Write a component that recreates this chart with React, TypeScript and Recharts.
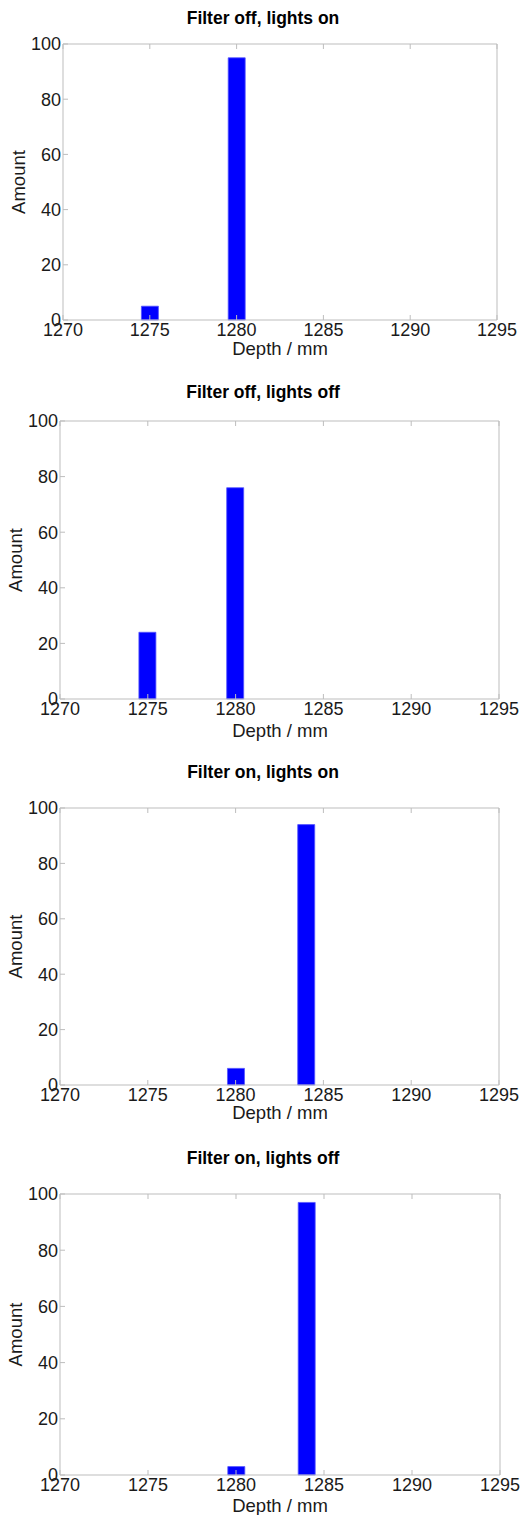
import React from 'react';
import { BarChart, Bar, XAxis, YAxis } from 'recharts';

// ---- data ----
const titles = [
  'Filter off, lights on',
  'Filter off, lights off',
  'Filter on, lights on',
  'Filter on, lights off',
];
const depthsFilterOffLightsOn = [1275, 1280];
const amountsFilterOffLightsOn = [5, 95];
const depthsFilterOffLightsOff = [1275, 1280];
const amountsFilterOffLightsOff = [24, 76];
const depthsFilterOnLightsOn = [1280, 1284];
const amountsFilterOnLightsOn = [6, 94];
const depthsFilterOnLightsOff = [1280, 1284];
const amountsFilterOnLightsOff = [3, 97];
const xTicks = [1270, 1275, 1280, 1285, 1290, 1295];
const yTicks = [0, 20, 40, 60, 80, 100];
const xLabel = 'Depth / mm';
const yLabel = 'Amount';

const series = [
  { depths: depthsFilterOffLightsOn, amounts: amountsFilterOffLightsOn },
  { depths: depthsFilterOffLightsOff, amounts: amountsFilterOffLightsOff },
  { depths: depthsFilterOnLightsOn, amounts: amountsFilterOnLightsOn },
  { depths: depthsFilterOnLightsOff, amounts: amountsFilterOnLightsOff },
];

// ---- layout (plot boxes in page pixels) ----
const boxes = [
  { L: 63, T: 44, R: 497, B: 320, titleY: 18, ylabX: 18, xlabY: 348 },
  { L: 60, T: 421, R: 499, B: 699, titleY: 392, ylabX: 15, xlabY: 730 },
  { L: 60, T: 808, R: 499, B: 1085, titleY: 772, ylabX: 15, xlabY: 1112 },
  { L: 60, T: 1194, R: 500, B: 1475, titleY: 1158, ylabX: 15, xlabY: 1505 },
];

const W = 531;
const FONT = '"Liberation Sans", Arial, sans-serif';
const AXIS_COLOR = '#bdbdbd';
const TEXT_COLOR = '#1a1a1a';
const Y_AXIS_W = 40;
const X_AXIS_H = 30;
const PAD_TOP = 50;
const PAD_BOTTOM = 60;

function Panel({ idx }: { idx: number }) {
  const b = boxes[idx];
  const s = series[idx];
  const data = s.depths.map((d, i) => ({ depth: d, amount: s.amounts[i] }));
  const h = b.B - b.T + PAD_TOP + PAD_BOTTOM;
  const tickStyle = { fill: TEXT_COLOR, fontSize: 18, fontFamily: FONT };
  return (
    <div style={{ position: 'absolute', left: 0, top: b.T - PAD_TOP, width: W, height: h }}>
      <BarChart
        width={W}
        height={h}
        data={data}
        margin={{ top: PAD_TOP, left: b.L - Y_AXIS_W, right: W - b.R, bottom: PAD_BOTTOM - X_AXIS_H }}
        barCategoryGap={0}
      >
        <XAxis
          xAxisId="bottom"
          dataKey="depth"
          type="number"
          domain={[1270, 1295]}
          ticks={xTicks}
          allowDataOverflow
          height={X_AXIS_H}
          interval={0}
          tickSize={-5}
          tickMargin={8}
          stroke={AXIS_COLOR}
          tick={tickStyle}
        />
        <XAxis
          xAxisId="top"
          dataKey="depth"
          type="number"
          orientation="top"
          mirror
          domain={[1270, 1295]}
          ticks={xTicks}
          allowDataOverflow
          interval={0}
          tickSize={5}
          stroke={AXIS_COLOR}
          tickFormatter={() => ''}
        />
        <YAxis
          yAxisId="left"
          type="number"
          domain={[0, 100]}
          ticks={yTicks}
          width={Y_AXIS_W}
          interval={0}
          tickSize={-5}
          tickMargin={7}
          stroke={AXIS_COLOR}
          tick={tickStyle}
        />
        <YAxis
          yAxisId="right"
          orientation="right"
          mirror
          type="number"
          domain={[0, 100]}
          ticks={yTicks}
          interval={0}
          tickSize={5}
          stroke={AXIS_COLOR}
          tickFormatter={() => ''}
        />
        <Bar
          xAxisId="bottom"
          yAxisId="left"
          dataKey="amount"
          fill="#0000ff"
          stroke="#5555ff"
          strokeWidth={0.8}
          barSize={17}
          isAnimationActive={false}
        />
      </BarChart>
    </div>
  );
}

export default function App() {
  return (
    <div style={{ position: 'absolute', left: 0, top: 0, width: W, height: 1515, background: '#fff' }}>
      {boxes.map((_, i) => (
        <Panel key={i} idx={i} />
      ))}
      <svg
        width={W}
        height={1515}
        style={{ position: 'absolute', left: 0, top: 0, pointerEvents: 'none' }}
      >
        {boxes.map((b, i) => (
          <g key={i} fontFamily={FONT} fill={TEXT_COLOR}>
            <text x={263} y={b.titleY} textAnchor="middle" dominantBaseline="central" fontSize={17.5} fontWeight="bold" fill="#000">
              {titles[i]}
            </text>
            <text x={280} y={b.xlabY} textAnchor="middle" dominantBaseline="central" fontSize={18.5}>
              {xLabel}
            </text>
            <text
              x={b.ylabX}
              y={(b.T + b.B) / 2}
              textAnchor="middle"
              dominantBaseline="central"
              fontSize={18.5}
              transform={`rotate(-90 ${b.ylabX} ${(b.T + b.B) / 2})`}
            >
              {yLabel}
            </text>
          </g>
        ))}
      </svg>
    </div>
  );
}
